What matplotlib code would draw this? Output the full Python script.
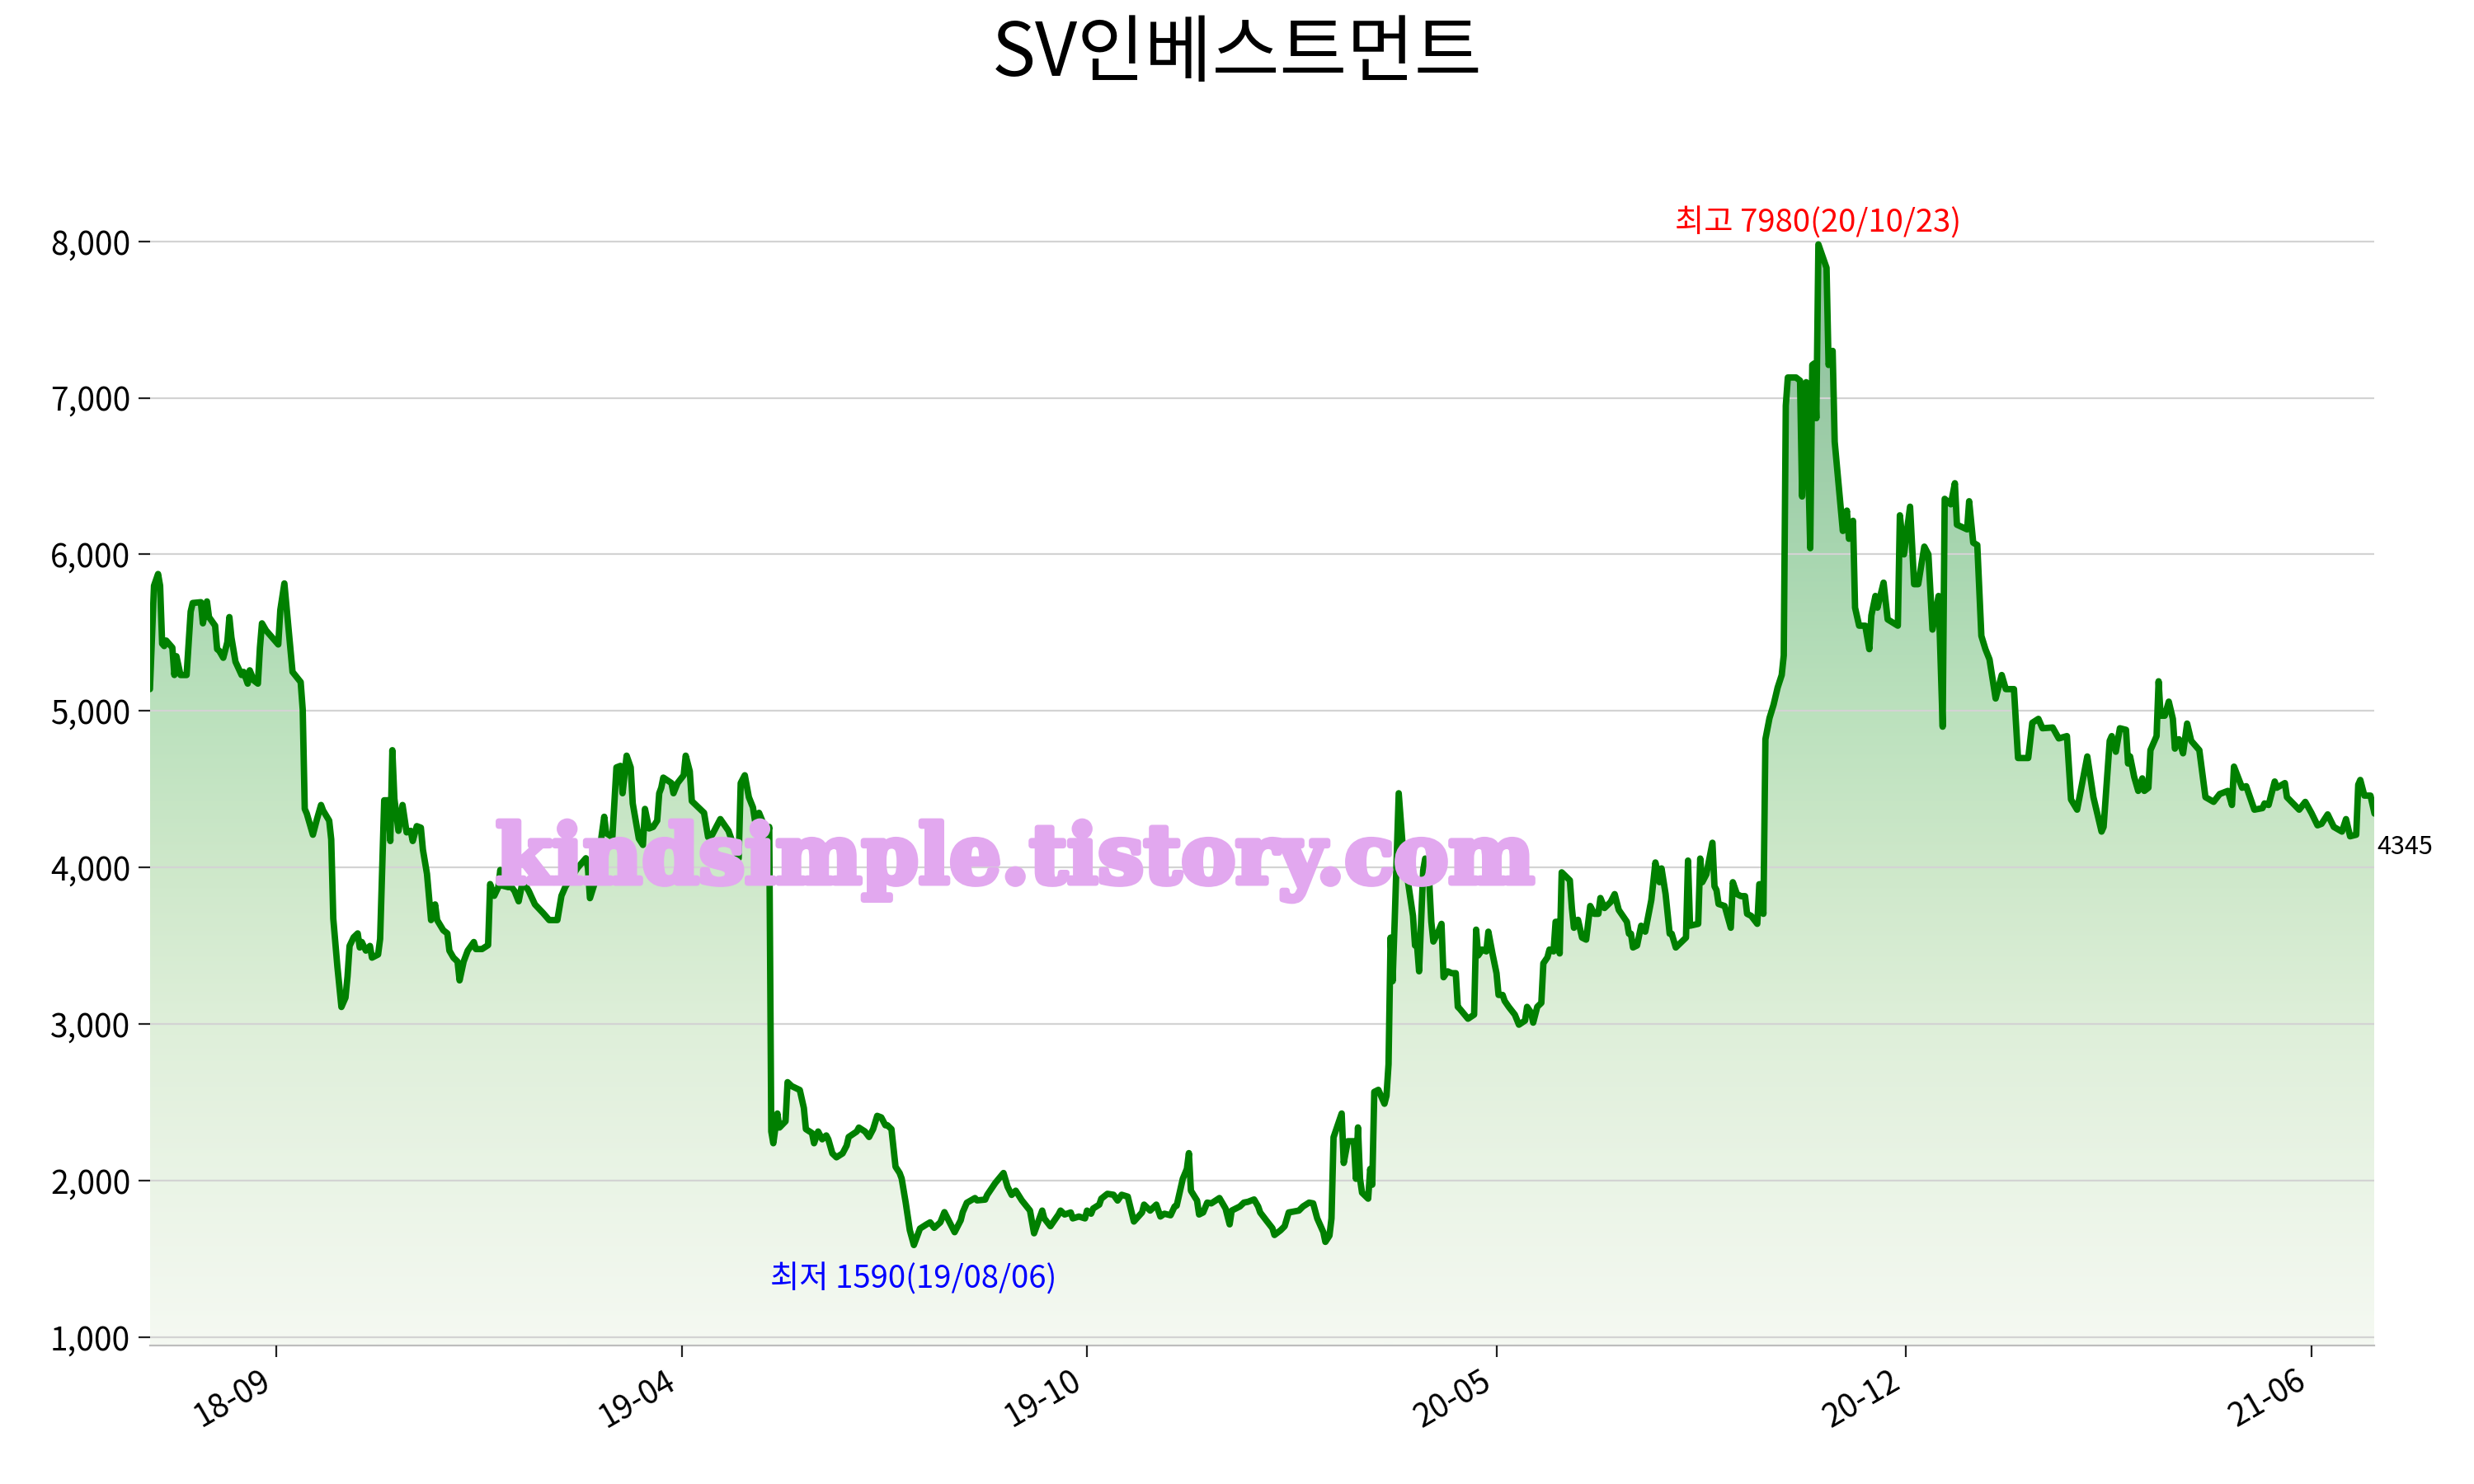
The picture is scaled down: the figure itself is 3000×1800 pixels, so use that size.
import numpy as np
import pandas as pd
import matplotlib
matplotlib.use('Agg')
import matplotlib.pyplot as plt
import matplotlib.dates as mdates
import matplotlib.patheffects as pe
from matplotlib.colors import LinearSegmentedColormap
from matplotlib.patches import PathPatch
from matplotlib.ticker import FuncFormatter

plt.rcParams['font.family'] = ['Noto Sans CJK KR', 'DejaVu Sans']

title = 'SV인베스트먼트'
watermark = 'kindsimple.tistory.com'

# closing prices (KRW)
dates_2018 = ['2018-07-27', '2018-07-29', '2018-07-31', '2018-08-01', '2018-08-02', '2018-08-03', '2018-08-04',
              '2018-08-07', '2018-08-08', '2018-08-09', '2018-08-11', '2018-08-14', '2018-08-16', '2018-08-17',
              '2018-08-21', '2018-08-22', '2018-08-24', '2018-08-25', '2018-08-28', '2018-08-29', '2018-08-30',
              '2018-09-01', '2018-09-03', '2018-09-04', '2018-09-05', '2018-09-07', '2018-09-10', '2018-09-11',
              '2018-09-13', '2018-09-14', '2018-09-16', '2018-09-18', '2018-09-19', '2018-09-20', '2018-09-22',
              '2018-09-25', '2018-09-28', '2018-09-29', '2018-10-01', '2018-10-03', '2018-10-05', '2018-10-09',
              '2018-10-10', '2018-10-11', '2018-10-12', '2018-10-15', '2018-10-17', '2018-10-19', '2018-10-20',
              '2018-10-23', '2018-10-24', '2018-10-25', '2018-10-27', '2018-10-29', '2018-10-31', '2018-11-01',
              '2018-11-02', '2018-11-04', '2018-11-06', '2018-11-07', '2018-11-08', '2018-11-10', '2018-11-12',
              '2018-11-13', '2018-11-16', '2018-11-17', '2018-11-19', '2018-11-21', '2018-11-22', '2018-11-23',
              '2018-11-24', '2018-11-26', '2018-11-28', '2018-11-30', '2018-12-02', '2018-12-03', '2018-12-05',
              '2018-12-07', '2018-12-08', '2018-12-10', '2018-12-12', '2018-12-14', '2018-12-15', '2018-12-18',
              '2018-12-20', '2018-12-21', '2018-12-23', '2018-12-25', '2018-12-26', '2018-12-28', '2018-12-30']
close_2018 = [5140, 5800, 5875, 5800, 5430, 5415, 5450,
              5405, 5230, 5350, 5230, 5230, 5635, 5690,
              5695, 5560, 5700, 5600, 5545, 5395, 5385,
              5340, 5440, 5600, 5470, 5315, 5230, 5250,
              5175, 5260, 5195, 5175, 5405, 5560, 5515,
              5470, 5425, 5645, 5815, 5535, 5250, 5185,
              5010, 4375, 4345, 4210, 4310, 4400, 4365,
              4300, 4180, 3675, 3370, 3110, 3170, 3305,
              3500, 3555, 3580, 3490, 3525, 3470, 3500,
              3425, 3445, 3545, 4430, 4430, 4170, 4750,
              4440, 4235, 4400, 4225, 4235, 4170, 4265,
              4255, 4115, 3960, 3665, 3765, 3665, 3600,
              3580, 3470, 3425, 3400, 3280, 3400, 3470]

dates_2019 = ['2019-01-02', '2019-01-03', '2019-01-06', '2019-01-09', '2019-01-10', '2019-01-12', '2019-01-14',
              '2019-01-15', '2019-01-16', '2019-01-19', '2019-01-20', '2019-01-22', '2019-01-24', '2019-01-26',
              '2019-01-29', '2019-02-01', '2019-02-05', '2019-02-08', '2019-02-12', '2019-02-14', '2019-02-16',
              '2019-02-18', '2019-02-22', '2019-02-26', '2019-02-27', '2019-02-28', '2019-03-03', '2019-03-05',
              '2019-03-07', '2019-03-08', '2019-03-11', '2019-03-13', '2019-03-15', '2019-03-16', '2019-03-18',
              '2019-03-20', '2019-03-21', '2019-03-24', '2019-03-26', '2019-03-27', '2019-03-29', '2019-03-31',
              '2019-04-02', '2019-04-03', '2019-04-04', '2019-04-05', '2019-04-09', '2019-04-10', '2019-04-12',
              '2019-04-15', '2019-04-16', '2019-04-18', '2019-04-19', '2019-04-23', '2019-04-25', '2019-04-27',
              '2019-04-29', '2019-05-03', '2019-05-07', '2019-05-09', '2019-05-12', '2019-05-13', '2019-05-15',
              '2019-05-17', '2019-05-19', '2019-05-20', '2019-05-22', '2019-05-24', '2019-05-26', '2019-05-27',
              '2019-05-28', '2019-05-29', '2019-05-31', '2019-06-01', '2019-06-04', '2019-06-05', '2019-06-07',
              '2019-06-11', '2019-06-13', '2019-06-14', '2019-06-17', '2019-06-18', '2019-06-20', '2019-06-22',
              '2019-06-24', '2019-06-25', '2019-06-27', '2019-06-29', '2019-07-02', '2019-07-04', '2019-07-05',
              '2019-07-09', '2019-07-10', '2019-07-13', '2019-07-15', '2019-07-17', '2019-07-19', '2019-07-21',
              '2019-07-23', '2019-07-24', '2019-07-26', '2019-07-28', '2019-07-30', '2019-07-31', '2019-08-02',
              '2019-08-04', '2019-08-06', '2019-08-09', '2019-08-12', '2019-08-14', '2019-08-16', '2019-08-19',
              '2019-08-21', '2019-08-26', '2019-08-29', '2019-08-30', '2019-09-01', '2019-09-05', '2019-09-06',
              '2019-09-10', '2019-09-11', '2019-09-15', '2019-09-19', '2019-09-21', '2019-09-23', '2019-09-25',
              '2019-09-28', '2019-10-02', '2019-10-04', '2019-10-08', '2019-10-09', '2019-10-12', '2019-10-16',
              '2019-10-17', '2019-10-19', '2019-10-22', '2019-10-23', '2019-10-26', '2019-10-29', '2019-10-30',
              '2019-11-01', '2019-11-02', '2019-11-05', '2019-11-06', '2019-11-09', '2019-11-12', '2019-11-14',
              '2019-11-16', '2019-11-19', '2019-11-22', '2019-11-26', '2019-11-27', '2019-11-30', '2019-12-03',
              '2019-12-05', '2019-12-07', '2019-12-10', '2019-12-12', '2019-12-13', '2019-12-16', '2019-12-18',
              '2019-12-19', '2019-12-20', '2019-12-23', '2019-12-24', '2019-12-26', '2019-12-28', '2019-12-30']
close_2019 = [3525, 3480, 3480, 3505, 3895, 3820, 3875,
              3985, 3885, 3875, 3885, 3850, 3785, 3915,
              3850, 3765, 3710, 3665, 3665, 3820, 3880,
              3920, 4000, 4060, 4000, 3805, 3930, 4135,
              4325, 4220, 4195, 4640, 4650, 4475, 4715,
              4640, 4410, 4185, 4145, 4375, 4250, 4260,
              4300, 4475, 4510, 4575, 4540, 4475, 4540,
              4590, 4715, 4615, 4425, 4375, 4350, 4195,
              4210, 4310, 4235, 4160, 4060, 4540, 4590,
              4450, 4385, 4300, 4350, 4285, 4195, 4260,
              2315, 2240, 2430, 2340, 2380, 2630, 2605,
              2580, 2465, 2330, 2305, 2240, 2315, 2265,
              2290, 2265, 2175, 2150, 2175, 2225, 2280,
              2315, 2340, 2315, 2280, 2330, 2415, 2405,
              2355, 2355, 2330, 2090, 2050, 2015, 1860,
              1685, 1590, 1695, 1720, 1735, 1700, 1735,
              1800, 1672, 1748, 1800, 1860, 1890, 1875,
              1880, 1910, 1987, 2050, 1962, 1910, 1937,
              1875, 1810, 1665, 1810, 1760, 1710, 1785,
              1810, 1785, 1798, 1760, 1772, 1760, 1810,
              1790, 1823, 1848, 1886, 1917, 1911, 1874,
              1911, 1899, 1740, 1798, 1848, 1810, 1848,
              1772, 1790, 1780, 1836, 1841, 2013, 2076,
              2177, 1937, 1874, 1785, 1798, 1861, 1856]

dates_2020 = ['2020-01-03', '2020-01-06', '2020-01-08', '2020-01-09', '2020-01-13', '2020-01-15', '2020-01-17',
              '2020-01-20', '2020-01-22', '2020-01-23', '2020-01-26', '2020-01-29', '2020-01-30', '2020-02-02',
              '2020-02-04', '2020-02-06', '2020-02-11', '2020-02-13', '2020-02-16', '2020-02-18', '2020-02-20',
              '2020-02-23', '2020-02-24', '2020-02-26', '2020-02-27', '2020-02-28', '2020-03-01', '2020-03-03',
              '2020-03-04', '2020-03-06', '2020-03-09', '2020-03-10', '2020-03-11', '2020-03-12', '2020-03-13',
              '2020-03-16', '2020-03-17', '2020-03-18', '2020-03-19', '2020-03-21', '2020-03-24', '2020-03-25',
              '2020-03-26', '2020-03-27', '2020-03-28', '2020-03-29', '2020-03-31', '2020-04-03', '2020-04-04',
              '2020-04-07', '2020-04-08', '2020-04-09', '2020-04-10', '2020-04-12', '2020-04-13', '2020-04-15',
              '2020-04-16', '2020-04-17', '2020-04-19', '2020-04-21', '2020-04-22', '2020-04-24', '2020-04-26',
              '2020-04-28', '2020-04-29', '2020-04-30', '2020-05-04', '2020-05-07', '2020-05-08', '2020-05-09',
              '2020-05-11', '2020-05-13', '2020-05-14', '2020-05-16', '2020-05-18', '2020-05-19', '2020-05-21',
              '2020-05-22', '2020-05-24', '2020-05-27', '2020-05-29', '2020-06-01', '2020-06-02', '2020-06-04',
              '2020-06-05', '2020-06-07', '2020-06-09', '2020-06-10', '2020-06-12', '2020-06-13', '2020-06-15',
              '2020-06-16', '2020-06-17', '2020-06-18', '2020-06-19', '2020-06-23', '2020-06-24', '2020-06-25',
              '2020-06-27', '2020-06-29', '2020-07-01', '2020-07-03', '2020-07-05', '2020-07-07', '2020-07-08',
              '2020-07-10', '2020-07-13', '2020-07-15', '2020-07-17', '2020-07-19', '2020-07-21', '2020-07-22',
              '2020-07-23', '2020-07-24', '2020-07-26', '2020-07-28', '2020-07-30', '2020-08-02', '2020-08-04',
              '2020-08-06', '2020-08-07', '2020-08-09', '2020-08-11', '2020-08-12', '2020-08-14', '2020-08-19',
              '2020-08-20', '2020-08-21', '2020-08-25', '2020-08-26', '2020-08-27', '2020-08-29', '2020-09-01',
              '2020-09-02', '2020-09-03', '2020-09-04', '2020-09-07', '2020-09-10', '2020-09-11', '2020-09-13',
              '2020-09-15', '2020-09-17', '2020-09-18', '2020-09-20', '2020-09-23', '2020-09-24', '2020-09-25',
              '2020-09-26', '2020-09-27', '2020-09-29', '2020-10-01', '2020-10-03', '2020-10-05', '2020-10-06',
              '2020-10-07', '2020-10-08', '2020-10-10', '2020-10-12', '2020-10-14', '2020-10-15', '2020-10-17',
              '2020-10-19', '2020-10-20', '2020-10-21', '2020-10-22', '2020-10-23', '2020-10-27', '2020-10-28',
              '2020-10-30', '2020-10-31', '2020-11-03', '2020-11-04', '2020-11-06', '2020-11-07', '2020-11-09',
              '2020-11-10', '2020-11-12', '2020-11-15', '2020-11-17', '2020-11-18', '2020-11-20', '2020-11-21',
              '2020-11-24', '2020-11-26', '2020-12-01', '2020-12-02', '2020-12-04', '2020-12-07', '2020-12-09',
              '2020-12-11', '2020-12-14', '2020-12-16', '2020-12-18', '2020-12-21', '2020-12-23', '2020-12-24',
              '2020-12-27', '2020-12-29', '2020-12-30']
close_2020 = [1890, 1823, 1722, 1810, 1836, 1861, 1866,
              1881, 1836, 1798, 1747, 1697, 1654, 1684,
              1710, 1798, 1810, 1836, 1861, 1856, 1760,
              1672, 1610, 1650, 1760, 2278, 2354, 2430,
              2114, 2253, 2253, 2013, 2341, 2013, 1924,
              1886, 2076, 1975, 2568, 2581, 2492, 2543,
              2745, 3553, 3275, 3654, 4475, 3957, 3957,
              3692, 3503, 3503, 3338, 3982, 4058, 3907,
              3654, 3528, 3578, 3641, 3300, 3338, 3326,
              3326, 3111, 3098, 3035, 3061, 3604, 3439,
              3477, 3465, 3591, 3452, 3326, 3187, 3187,
              3149, 3111, 3061, 2997, 3023, 3111, 3073,
              3010, 3111, 3136, 3389, 3427, 3477, 3465,
              3654, 3654, 3452, 3970, 3919, 3742, 3616,
              3667, 3553, 3540, 3755, 3705, 3705, 3806,
              3742, 3780, 3831, 3730, 3692, 3654, 3578,
              3578, 3490, 3503, 3629, 3591, 3793, 4033,
              3907, 3995, 3831, 3578, 3578, 3490, 3553,
              4045, 3629, 3641, 4058, 3907, 3957, 4159,
              3881, 3856, 3768, 3755, 3616, 3907, 3831,
              3818, 3818, 3705, 3692, 3641, 3894, 3894,
              3705, 4820, 4955, 5040, 5150, 5230, 5355,
              6950, 7130, 7130, 7130, 7110, 6370, 7100,
              6040, 7210, 7220, 6870, 7980, 7830, 7210,
              7300, 6720, 6290, 6150, 6280, 6100, 6215,
              5660, 5545, 5545, 5395, 5610, 5735, 5660,
              5820, 5585, 5545, 6250, 6000, 6305, 5810,
              5810, 6050, 6000, 5520, 5735, 4900, 6355,
              6320, 6455, 6190]

dates_2021 = ['2021-01-04', '2021-01-05', '2021-01-07', '2021-01-09', '2021-01-11', '2021-01-13', '2021-01-15',
              '2021-01-18', '2021-01-21', '2021-01-23', '2021-01-27', '2021-01-29', '2021-02-03', '2021-02-05',
              '2021-02-08', '2021-02-10', '2021-02-15', '2021-02-18', '2021-02-22', '2021-02-24', '2021-02-27',
              '2021-03-04', '2021-03-07', '2021-03-11', '2021-03-12', '2021-03-15', '2021-03-16', '2021-03-18',
              '2021-03-20', '2021-03-23', '2021-03-24', '2021-03-25', '2021-03-27', '2021-03-29', '2021-03-31',
              '2021-04-01', '2021-04-03', '2021-04-04', '2021-04-07', '2021-04-08', '2021-04-09', '2021-04-11',
              '2021-04-13', '2021-04-15', '2021-04-16', '2021-04-18', '2021-04-20', '2021-04-22', '2021-04-24',
              '2021-04-28', '2021-04-30', '2021-05-01', '2021-05-05', '2021-05-08', '2021-05-12', '2021-05-14',
              '2021-05-15', '2021-05-19', '2021-05-21', '2021-05-25', '2021-05-29', '2021-05-30', '2021-06-01',
              '2021-06-04', '2021-06-05', '2021-06-09', '2021-06-10', '2021-06-16', '2021-06-19', '2021-06-22',
              '2021-06-25', '2021-06-27', '2021-06-30', '2021-07-03', '2021-07-07', '2021-07-09', '2021-07-11',
              '2021-07-14', '2021-07-15', '2021-07-16', '2021-07-18', '2021-07-21', '2021-07-23']
close_2021 = [6160, 6340, 6075, 6060, 5480, 5395, 5330,
              5080, 5230, 5140, 5140, 4700, 4700, 4925,
              4950, 4890, 4895, 4825, 4840, 4435, 4370,
              4710, 4450, 4230, 4260, 4810, 4840, 4740,
              4890, 4880, 4665, 4710, 4580, 4490, 4570,
              4490, 4510, 4750, 4840, 5190, 4970, 4970,
              5060, 4950, 4760, 4820, 4730, 4920, 4810,
              4750, 4550, 4450, 4420, 4470, 4490, 4400,
              4645, 4510, 4520, 4370, 4380, 4410, 4400,
              4550, 4510, 4540, 4450, 4370, 4420, 4350,
              4270, 4280, 4340, 4260, 4230, 4310, 4200,
              4210, 4530, 4560, 4460, 4460, 4345]

tick_dates = ['2018-09-27', '2019-04-14', '2019-10-30', '2020-05-18', '2020-12-05', '2021-06-22']
y_ticks = [1000, 2000, 3000, 4000, 5000, 6000, 7000, 8000]

# vertical colour ramp of the area under the line
grad_levels = [950, 2000, 3000, 4000, 5000, 6000, 7000, 8000]
grad_colors = ['#f5f9f2', '#eaf4e6', '#deefd9', '#cee8ca', '#bbe1bd', '#a8d6b0', '#99c9a5', '#8bc09a']

dates = pd.to_datetime(dates_2018 + dates_2019 + dates_2020 + dates_2021)
close = np.array(close_2018 + close_2019 + close_2020 + close_2021)
x = mdates.date2num(dates)

y_bottom, y_top = 950, 8700

fig = plt.figure(figsize=(15, 9), dpi=200)
ax = fig.add_axes([0.0606, 0.0935, 0.8992, 0.8178])

fill = ax.fill_between(x, close, y_bottom, facecolor='none', edgecolor='none')
clip = PathPatch(fill.get_paths()[0], transform=ax.transData, facecolor='none', edgecolor='none')
ax.add_patch(clip)
stops = [(v - grad_levels[0]) / (grad_levels[-1] - grad_levels[0]) for v in grad_levels]
cmap = LinearSegmentedColormap.from_list('area', list(zip(stops, grad_colors)))
img = ax.imshow(np.linspace(0, 1, 512).reshape(-1, 1), extent=[x[0], x[-1], grad_levels[0], grad_levels[-1]],
                origin='lower', aspect='auto', cmap=cmap, zorder=1)
img.set_clip_path(clip)

ax.plot(x, close, color='#008000', lw=2.8, zorder=3, solid_capstyle='round', solid_joinstyle='round')

ax.set_xlim(x[0], x[-1])
ax.set_ylim(y_bottom, y_top)
ax.set_yticks(y_ticks)
ax.yaxis.set_major_formatter(FuncFormatter(lambda v, p: f'{v:,.0f}'))
ax.set_xticks(mdates.date2num(pd.to_datetime(tick_dates)))
ax.set_xticklabels([pd.Timestamp(d).strftime('%y-%m') for d in tick_dates])
plt.setp(ax.get_xticklabels(), rotation=30, ha='right')
ax.tick_params(axis='both', labelsize=14, length=5, width=0.8, color='#222222')

ax.yaxis.grid(True, color='#d3d3d3', lw=0.8)
ax.set_axisbelow(False)
for side in ['left', 'top', 'right']:
    ax.spines[side].set_visible(False)
ax.spines['bottom'].set_color('#bdbdbd')
ax.spines['bottom'].set_linewidth(0.8)

imax = int(close.argmax())
imin = int(close.argmin())
ax.annotate(f'최고 {close[imax]}({dates[imax]:%y/%m/%d})', (x[imax], close[imax]), xytext=(0, 2),
            textcoords='offset points', ha='center', va='bottom', color='red', fontsize=13.8, zorder=5)
ax.annotate(f'최저 {close[imin]}({dates[imin]:%y/%m/%d})', (x[imin], close[imin]), xytext=(0, -8),
            textcoords='offset points', ha='center', va='top', color='blue', fontsize=13.8, zorder=5)
ax.annotate(f'{close[-1]}', (x[-1], close[-1]), xytext=(1, -9), textcoords='offset points',
            ha='left', va='top', color='black', fontsize=11, annotation_clip=False, zorder=5)

fig.text(0.5, 0.963, title, ha='center', va='center', fontsize=32)
wm_color = '#e2a8ef'
fig.text(0.4104, 0.405, watermark, ha='center', va='baseline', fontsize=35.5, color=wm_color,
         family='DejaVu Serif', fontweight='bold', zorder=10,
         path_effects=[pe.withStroke(linewidth=2.5, foreground=wm_color)])

fig.savefig('out.png', dpi=200)
